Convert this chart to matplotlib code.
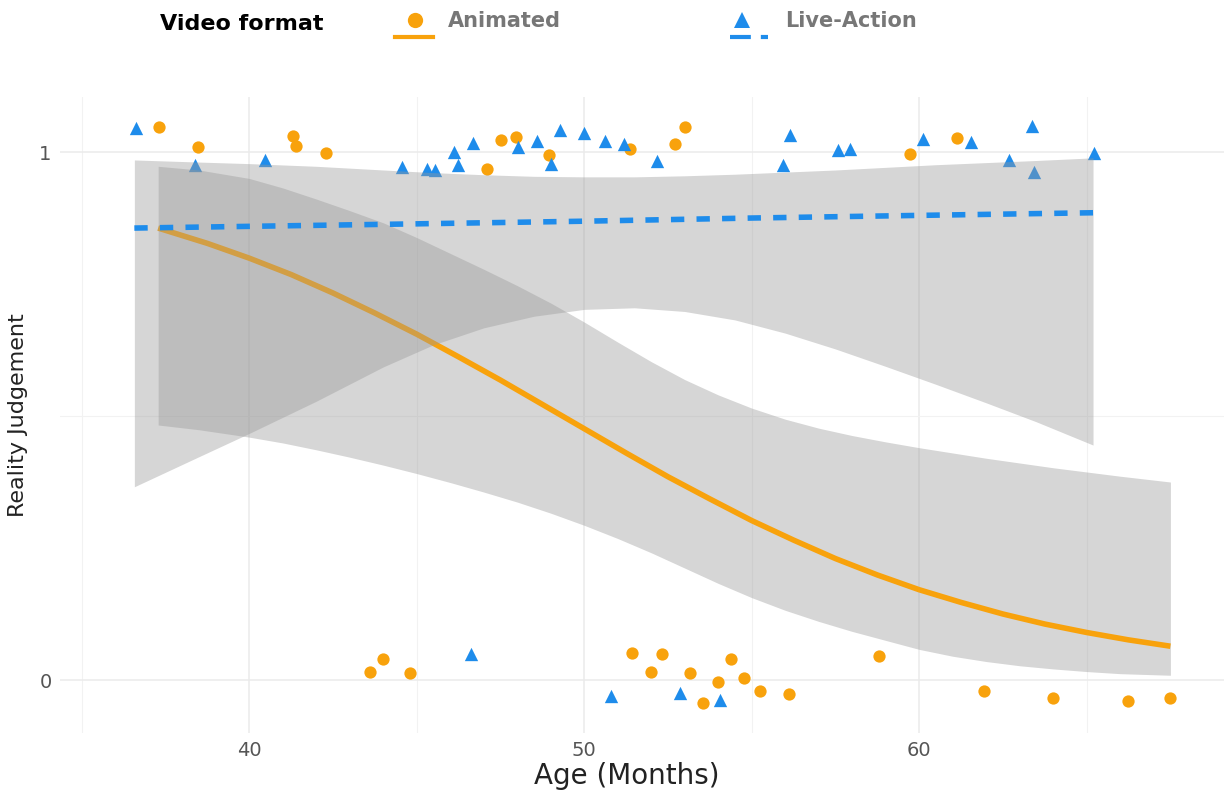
import numpy as np
import matplotlib
matplotlib.use("Agg")
import matplotlib.pyplot as plt
from matplotlib.lines import Line2D

# reality judgements (0/1, jittered) by age in months
anim_age = [37.30, 38.47, 41.30, 41.40, 42.29, 47.11, 47.51, 47.96, 48.94, 51.37,
            52.71, 53.01, 59.72, 61.14,
            43.59, 43.99, 44.81, 51.42, 51.99, 52.32, 53.16, 53.56, 53.99, 54.39,
            54.78, 55.25, 56.12, 58.81, 61.94, 63.99, 66.23, 67.49]
anim_judg = [1.048, 1.009, 1.030, 1.011, 0.999, 0.968, 1.023, 1.028, 0.994, 1.005,
             1.015, 1.048, 0.996, 1.026,
             0.015, 0.039, 0.013, 0.051, 0.015, 0.049, 0.013, -0.043, -0.004, 0.039,
             0.003, -0.021, -0.027, 0.046, -0.021, -0.035, -0.039, -0.035]

live_age = [36.61, 38.37, 40.48, 44.55, 45.30, 45.56, 46.10, 46.24, 46.68, 48.01,
            48.58, 49.01, 49.27, 49.99, 50.61, 51.19, 52.17, 55.94, 56.14, 57.57,
            57.93, 60.11, 61.54, 62.69, 63.38, 63.44, 65.23,
            46.63, 50.80, 52.87, 54.06]
live_judg = [1.045, 0.975, 0.985, 0.972, 0.967, 0.966, 1.001, 0.975, 1.018, 1.010,
             1.020, 0.977, 1.042, 1.037, 1.021, 1.016, 0.983, 0.975, 1.033, 1.004,
             1.006, 1.024, 1.019, 0.985, 1.049, 0.963, 0.999,
             0.049, -0.030, -0.025, -0.038]

# logistic smooth for animated videos
anim_fit_x = [37.28, 38.75, 40.0, 41.25, 42.5, 43.75, 45.0, 46.25, 47.5, 48.75, 50.0,
              51.25, 52.5, 53.75, 55.0, 56.25, 57.5, 58.75, 60.0, 61.25, 62.5, 63.75,
              65.0, 66.25, 67.5]
anim_fit_y = [0.856, 0.827, 0.799, 0.768, 0.733, 0.695, 0.655, 0.612, 0.568, 0.522, 0.476,
              0.430, 0.385, 0.343, 0.302, 0.265, 0.230, 0.199, 0.171, 0.147, 0.125, 0.106,
              0.090, 0.076, 0.064]

# its confidence band
anim_band_x = [37.28, 38.5, 40, 41, 42, 43, 44, 45, 46, 47, 48, 49, 50, 51, 52, 53, 54,
               55, 56, 57, 58, 59, 60, 61, 62, 63, 64, 65, 66, 67.5]
anim_hi_y = [0.973, 0.966, 0.950, 0.932, 0.911, 0.889, 0.866, 0.838, 0.808, 0.778, 0.747,
             0.714, 0.678, 0.640, 0.603, 0.569, 0.540, 0.515, 0.494, 0.477, 0.463, 0.451,
             0.440, 0.430, 0.420, 0.411, 0.402, 0.394, 0.386, 0.375]
anim_lo_y = [0.483, 0.474, 0.460, 0.449, 0.436, 0.422, 0.407, 0.391, 0.374, 0.356, 0.337,
             0.316, 0.293, 0.268, 0.241, 0.212, 0.183, 0.156, 0.132, 0.111, 0.092, 0.075,
             0.058, 0.045, 0.035, 0.027, 0.021, 0.016, 0.012, 0.009]

# live-action smooth and band
live_band_x = [36.57, 38.5, 40.03, 42.0, 44.0, 45.5, 47.0, 48.5, 50.0, 51.5, 53.0, 54.5,
               56.0, 57.5, 59.0, 60.5, 62.0, 63.5, 65.19]
live_lo_y = [0.366, 0.423, 0.468, 0.528, 0.593, 0.635, 0.667, 0.689, 0.702, 0.705, 0.698,
             0.682, 0.657, 0.627, 0.594, 0.560, 0.525, 0.489, 0.445]
live_hi_y = [0.985, 0.981, 0.978, 0.973, 0.966, 0.961, 0.957, 0.954, 0.953, 0.953, 0.955,
             0.958, 0.962, 0.966, 0.971, 0.976, 0.980, 0.984, 0.989]

live_fit_x = [36.57, 45.0, 50.0, 55.0, 60.0, 65.19]
live_fit_y = [0.856, 0.864, 0.869, 0.875, 0.880, 0.885]

ORANGE = "#F8A20C"
BLUE = "#1E8CEB"
BAND = "#999999"

fig = plt.figure(figsize=(12.25, 7.95), dpi=100)
ax = fig.add_axes([60 / 1225, 1 - 732.8 / 795, (1224 - 60) / 1225, 636.2 / 795])

ax.scatter(anim_age, anim_judg, s=78, marker="o", color=ORANGE, linewidths=0, zorder=2)
ax.scatter(live_age, live_judg, s=92, marker="^", color=BLUE, linewidths=0, zorder=2)

# each group: band first, then its line (the live band sits over the animated line)
ax.fill_between(anim_band_x, anim_lo_y, anim_hi_y, color=BAND, alpha=0.4, linewidth=0, zorder=3)
ax.plot(anim_fit_x, anim_fit_y, color=ORANGE, lw=4, solid_capstyle="butt", zorder=4)
ax.fill_between(live_band_x, live_lo_y, live_hi_y, color=BAND, alpha=0.4, linewidth=0, zorder=5)
ax.plot(live_fit_x, live_fit_y, color=BLUE, lw=4, dashes=(2.4, 2.2), zorder=6)

ax.set_xlim(34.35, 69.1)
ax.set_ylim(-0.1, 1.105)
ax.set_xticks([40, 50, 60])
ax.set_xticks([35, 45, 55, 65], minor=True)
ax.set_yticks([0, 1])
ax.set_yticks([0.5], minor=True)
ax.grid(which="major", color="#EBEBEB", lw=1.1, zorder=0)
ax.grid(which="minor", color="#F2F2F2", lw=0.8, zorder=0)
ax.set_axisbelow(True)
for s in ax.spines.values():
    s.set_visible(False)
ax.tick_params(which="both", length=0, labelsize=14, labelcolor="#555555")
ax.tick_params(axis="x", pad=6)
ax.tick_params(axis="y", pad=6)

ax.set_xlabel("Age (Months)", fontsize=20, color="#222222")
ax.xaxis.set_label_coords((627 - 60) / 1164, -0.046)
ax.set_ylabel("Reality Judgement", fontsize=16, color="#222222")
ax.yaxis.set_label_coords(-0.0275, 0.5)

# legend across the top
def fx(px):
    return px / 1225

def fy(py):
    return 1 - py / 795

fig.text(fx(160), fy(24), "Video format", fontsize=16, fontweight="bold",
         color="black", va="center", ha="left")
fig.add_artist(Line2D([fx(395), fx(433)], [fy(37), fy(37)], color=ORANGE, lw=3))
fig.add_artist(Line2D([fx(415)], [fy(20)], marker="o", markersize=11,
                      color=ORANGE, markeredgewidth=0))
fig.text(fx(448), fy(21), "Animated", fontsize=15, fontweight="bold",
         color="#777777", va="center", ha="left")
fig.add_artist(Line2D([fx(730), fx(768)], [fy(37), fy(37)], color=BLUE, lw=3,
                      dashes=(5, 2.4)))
fig.add_artist(Line2D([fx(742)], [fy(20)], marker="^", markersize=12,
                      color=BLUE, markeredgewidth=0))
fig.text(fx(785), fy(21), "Live-Action", fontsize=15, fontweight="bold",
         color="#777777", va="center", ha="left")

fig.savefig("out.png", dpi=100, facecolor="white")
